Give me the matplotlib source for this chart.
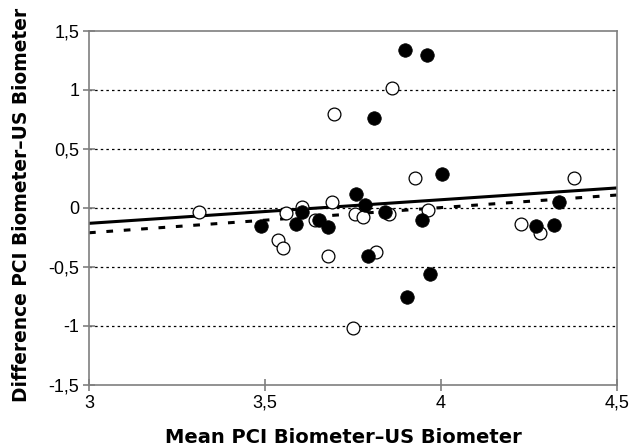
import numpy as np
import matplotlib.pyplot as plt
from matplotlib.ticker import FuncFormatter

plt.rcParams['font.family'] = ['Liberation Sans', 'DejaVu Sans']

# open circles
open_x = [3.926, 4.378, 3.861, 3.696, 3.313, 3.605, 3.690, 3.560, 3.642, 3.756,
          3.778, 3.537, 3.551, 3.679, 3.815, 3.963, 3.852, 3.750, 4.227, 4.281]
open_y = [0.254, 0.254, 1.017, 0.797, -0.034, 0.008, 0.051, -0.042, -0.102, -0.051,
          -0.076, -0.271, -0.339, -0.407, -0.373, -0.017, -0.051, -1.017, -0.136, -0.212]
# filled circles
fill_x = [3.898, 3.960, 3.810, 4.003, 3.759, 3.784, 3.841, 3.489, 3.588, 3.605,
          3.653, 3.679, 3.946, 3.793, 3.969, 3.903, 4.270, 4.321, 4.335]
fill_y = [1.34, 1.30, 0.763, 0.288, 0.119, 0.025, -0.034, -0.153, -0.136, -0.034,
          -0.102, -0.161, -0.102, -0.407, -0.559, -0.754, -0.153, -0.144, 0.051]
# trend lines (endpoints)
line_x = [3.0, 4.5]
solid_y = [-0.13, 0.17]
dash_y = [-0.21, 0.11]

fig = plt.figure(figsize=(6.33, 4.46), dpi=100)
ax = fig.add_axes([0.1406, 0.1368, 0.8341, 0.7937])

for yv in [1, 0.5, 0, -0.5, -1]:
    ax.axhline(yv, color='black', lw=0.9, ls=(0, (2, 2.5)), zorder=1)

ax.plot(line_x, solid_y, color='black', lw=2.2, zorder=2)
ax.plot(line_x, dash_y, color='black', lw=2.2, ls=(0, (2.2, 3.5)), zorder=2)

ax.scatter(open_x, open_y, s=85, facecolors='white', edgecolors='black', linewidths=0.9, zorder=3)
ax.scatter(fill_x, fill_y, s=95, facecolors='black', edgecolors='black', linewidths=0.5, zorder=4)

ax.set_xlim(3, 4.5)
ax.set_ylim(-1.5, 1.5)
ax.set_xticks([3, 3.5, 4, 4.5])
ax.set_yticks([-1.5, -1, -0.5, 0, 0.5, 1, 1.5])

def comma(v, pos):
    s = ('%g' % v).replace('.', ',')
    return s

ax.xaxis.set_major_formatter(FuncFormatter(comma))
ax.yaxis.set_major_formatter(FuncFormatter(comma))

for sp in ax.spines.values():
    sp.set_color('#7f7f7f')
    sp.set_linewidth(1.2)

ax.tick_params(axis='both', colors='#7f7f7f', labelcolor='black', labelsize=13,
               length=8, width=1.2, direction='inout')
ax.tick_params(axis='x', pad=3)
ax.tick_params(axis='y', pad=3)

ax.set_xlabel('Mean PCI Biometer–US Biometer', fontsize=14, fontweight='bold', family='DejaVu Sans')
ax.set_ylabel('Difference PCI Biometer–US Biometer', fontsize=13.4, fontweight='bold', family='DejaVu Sans')
ax.xaxis.set_label_coords(0.481, -0.147)
ax.yaxis.set_label_coords(-0.127, 0.51)
ax.xaxis.label.set_va('center')
ax.yaxis.label.set_va('center')

fig.savefig('out.png', dpi=100)
